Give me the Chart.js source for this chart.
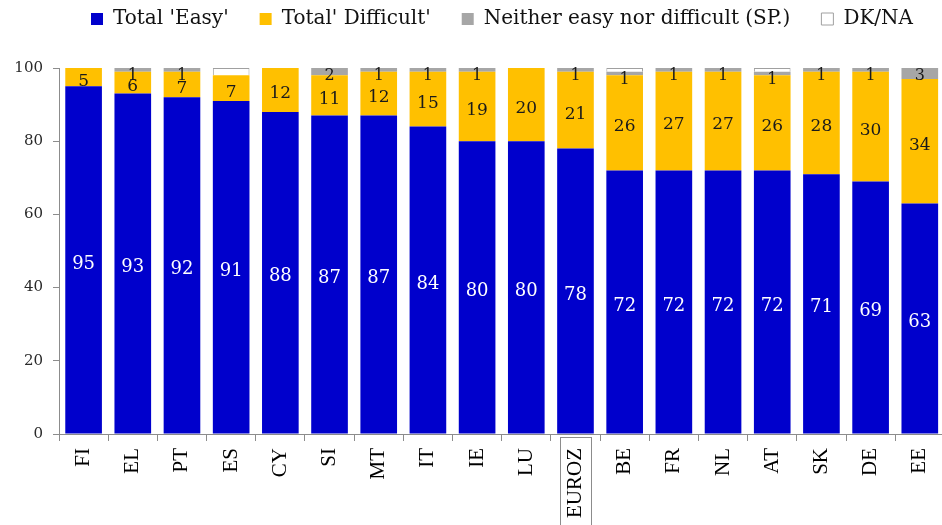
<!DOCTYPE html>
<html>
<head>
<meta charset="utf-8">
<script src="https://cdn.jsdelivr.net/npm/chart.js@4"></script>
<style>
  html, body { margin: 0; padding: 0; background: #fff; overflow: hidden; }
  #wrap { width: 942px; height: 525px; overflow: hidden; }
</style>
</head>
<body>
<div id="wrap"><canvas id="ease" width="952" height="525"></canvas></div>
<script>
// Share of respondents finding it easy / difficult, by country (%)
const countries = ['FI', 'EL', 'PT', 'ES', 'CY', 'SI', 'MT', 'IT', 'IE', 'LU', 'EUROZ', 'BE', 'FR', 'NL', 'AT', 'SK', 'DE', 'EE']
const easy = [95, 93, 92, 91, 88, 87, 87, 84, 80, 80, 78, 72, 72, 72, 72, 71, 69, 63]
const difficult = [5, 6, 7, 7, 12, 11, 12, 15, 19, 20, 21, 26, 27, 27, 26, 28, 30, 34]
const neither = [0, 1, 1, 0, 0, 2, 1, 1, 1, 0, 1, 1, 1, 1, 1, 1, 1, 3]
const dkna = [0, 0, 0, 2, 0, 0, 0, 0, 0, 0, 0, 1, 0, 0, 1, 0, 0, 0]
const yTicks = [0, 20, 40, 60, 80, 100]
const boxedCategory = 'EUROZ'

const serif = '"DejaVu Serif", serif'

// legend: fixed height and moved a bit to the right, like the original
const legendBox = {
    id: 'legendBox',
    beforeInit(chart) {
        const fit = chart.legend.fit
        chart.legend.fit = function () {
            fit.bind(chart.legend)()
            this.height = 68
        }
    },
    afterLayout(chart) {
        const lg = chart.legend
        lg.left += 60
        lg.right += 60
        lg.top -= 22
        lg.bottom -= 22
    }
}

// value labels inside the segments
const barLabels = {
    id: 'barLabels',
    afterDatasetsDraw(chart) {
        const ctx = chart.ctx
        const styles = [
            { color: '#ffffff', font: '18px ' + serif, mode: 'mid' },
            { color: '#1a1a1a', font: '17px ' + serif, mode: 'mid' },
            { color: '#1a1a1a', font: '16px ' + serif, mode: 'top' }
        ]
        ctx.save()
        ctx.textAlign = 'center'
        ctx.textBaseline = 'middle'
        styles.forEach((st, di) => {
            const meta = chart.getDatasetMeta(di)
            const values = chart.data.datasets[di].data
            meta.data.forEach((bar, i) => {
                if (!values[i]) return
                const y = st.mode === 'mid' ? (bar.y + bar.base) / 2 + 4 : bar.y + 8
                ctx.fillStyle = st.color
                ctx.font = st.font
                ctx.fillText(values[i], bar.x, y)
            })
        })
        ctx.restore()
    }
}

// frame round the euro zone label
const boxLabel = {
    id: 'boxLabel',
    afterDraw(chart) {
        const xs = chart.scales.x
        const i = countries.indexOf(boxedCategory)
        const cx = xs.getPixelForValue(i)
        const ctx = chart.ctx
        ctx.save()
        ctx.strokeStyle = '#8c8c8c'
        ctx.lineWidth = 1
        ctx.strokeRect(Math.round(cx - 15) + 0.5, xs.top + 3.5, 31, 120)
        ctx.restore()
    }
}

const ctx = document.getElementById('ease')
const easeChart = new Chart(ctx, {
    type: 'bar',
    data: {
        labels: countries,
        datasets: [{
            label: "Total 'Easy'",
            data: easy,
            backgroundColor: '#0000cc',
            borderWidth: 0
        }, {
            label: "Total' Difficult'",
            data: difficult,
            backgroundColor: '#ffc000',
            borderWidth: 0
        }, {
            label: 'Neither easy nor difficult (SP.)',
            data: neither,
            backgroundColor: '#a6a6a6',
            borderWidth: 0
        }, {
            label: 'DK/NA',
            data: dkna,
            backgroundColor: '#ffffff',
            borderColor: '#a0a0a0',
            borderWidth: 1
        }]
    },
    options: {
        responsive: false,
        animation: false,
        datasets: {
            bar: { categoryPercentage: 1, barPercentage: 0.745 }
        },
        layout: { padding: 0 },
        plugins: {
            tooltip: { enabled: false },
            legend: {
                position: 'top',
                align: 'start',
                labels: {
                    boxWidth: 12,
                    boxHeight: 12,
                    padding: 31,
                    color: '#111',
                    font: { family: serif, size: 20 }
                }
            }
        },
        scales: {
            x: {
                stacked: true,
                afterFit: s => { s.height = 91 },
                grid: { drawOnChartArea: false, tickLength: 7, color: '#8c8c8c', offset: true },
                border: { color: '#8c8c8c' },
                ticks: {
                    minRotation: 90,
                    maxRotation: 90,
                    autoSkip: false,
                    padding: 7,
                    color: '#000',
                    font: { family: '"Liberation Serif", serif', size: 21 }
                }
            },
            y: {
                stacked: true,
                min: 0,
                max: 100,
                afterFit: s => { s.width = 59 },
                afterBuildTicks: s => { s.ticks = yTicks.map(v => ({ value: v })) },
                grid: { drawOnChartArea: false, tickLength: 6, color: '#8c8c8c' },
                border: { color: '#8c8c8c' },
                ticks: {
                    padding: 10,
                    color: '#2a2a2a',
                    font: { family: serif, size: 15 }
                }
            }
        }
    },
    plugins: [legendBox, barLabels, boxLabel]
});
</script>
</body>
</html>
